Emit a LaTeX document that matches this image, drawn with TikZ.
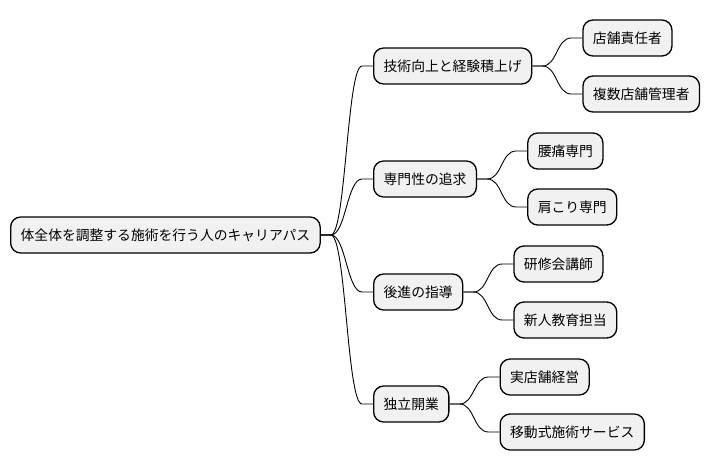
\documentclass[tikz,border=0pt]{standalone}
\usepackage{fontspec}
\setmainfont{Noto Sans CJK JP}
\usetikzlibrary{calc}
\tikzset{
  box/.style={draw=black, line width=1.3pt, fill=boxfill, rounded corners=10pt,
    minimum height=36pt, inner xsep=10pt, inner ysep=0pt, anchor=west,
    font=\fontsize{13.8pt}{16pt}\selectfont},
  link/.style={draw=black, line width=0.9pt}
}
\definecolor{boxfill}{HTML}{F1F1F1}
\newcommand\conn[2]{\draw[link] (#1.east) -- ++(10,0) .. controls +(15,0) and +(-15,0) .. ($(#2.west)+(-11,0)$) -- (#2.west);}
\begin{document}
\begin{tikzpicture}[x=1pt,y=-1pt]
\useasboundingbox (0,0) rectangle (712,471);
\node[box] (root) at (10,235) {体全体を調整する施術を行う人のキャリアパス};
\node[box] (a) at (373,66) {技術向上と経験積上げ};
\node[box] (b) at (373,179) {専門性の追求};
\node[box] (c) at (373,292) {後進の指導};
\node[box] (d) at (373,404) {独立開業};
\node[box] (a1) at ($(a.east)+(50,-28)$) {店舗責任者};
\node[box] (a2) at ($(a.east)+(50,28)$) {複数店舗管理者};
\node[box] (b1) at ($(b.east)+(50,-28)$) {腰痛専門};
\node[box] (b2) at ($(b.east)+(50,28)$) {肩こり専門};
\node[box] (c1) at ($(c.east)+(50,-28)$) {研修会講師};
\node[box] (c2) at ($(c.east)+(50,28)$) {新人教育担当};
\node[box] (d1) at ($(d.east)+(50,-27)$) {実店舗経営};
\node[box] (d2) at ($(d.east)+(50,28)$) {移動式施術サービス};
\conn{root}{a}\conn{root}{b}\conn{root}{c}\conn{root}{d}
\conn{a}{a1}\conn{a}{a2}
\conn{b}{b1}\conn{b}{b2}
\conn{c}{c1}\conn{c}{c2}
\conn{d}{d1}\conn{d}{d2}
\end{tikzpicture}
\end{document}
